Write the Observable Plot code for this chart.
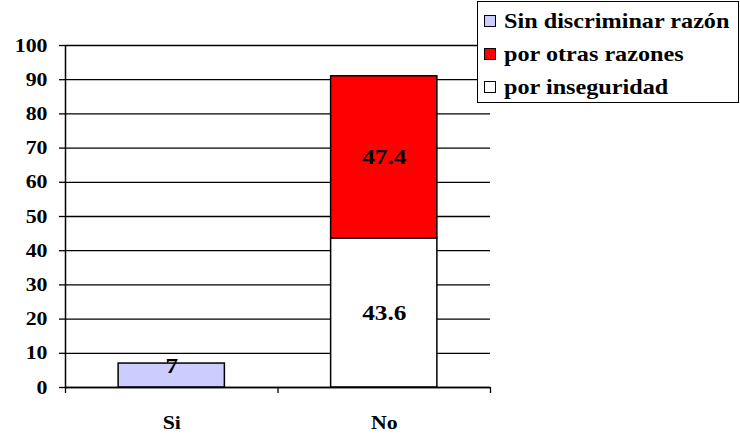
<!DOCTYPE html>
<html>
<head>
<meta charset="utf-8">
<script src="https://cdn.jsdelivr.net/npm/d3@7"></script>
<script src="https://cdn.jsdelivr.net/npm/@observablehq/plot@0.6"></script>
<style>body{margin:0}</style>
</head>
<body>
<div id="wrap" style="position:relative;width:740px;height:439px;font-family:'Liberation Serif'"><div id="chart"></div><div id="legend" style="position:absolute;left:477px;top:1px;width:260px;height:100px;border:1.5px solid #000;background:#fff"></div></div>
<script>
const categories = ["Si", "No"];
const series = ["Sin discriminar raz\u00f3n", "por otras razones", "por inseguridad"];
const seriesColors = ["#ccccff", "#ff0000", "#ffffff"];
// values per category (stack order bottom -> top)
const porInseguridad = [0, 43.6];
const porOtrasRazones = [0, 47.4];
const sinDiscriminar = [7, 0];
const yTicks = [0, 10, 20, 30, 40, 50, 60, 70, 80, 90, 100];

// build stacked table
const rows = [];
categories.forEach((cat, i) => {
  let acc = 0;
  [[series[2], porInseguridad[i]], [series[1], porOtrasRazones[i]], [series[0], sinDiscriminar[i]]]
    .forEach(([serie, v]) => {
      if (v > 0) {
        rows.push({i, cat, serie, value: v, y1: acc, y2: acc + v});
        acc += v;
      }
    });
});

const font = "Liberation Serif";

const plot = Plot.plot({
  width: 740,
  height: 439,
  marginLeft: 65,
  marginRight: 250,
  marginTop: 45,
  marginBottom: 52,
  style: { fontFamily: font, fontSize: "19px", fontWeight: "bold" },
  x: { domain: [0, categories.length], axis: null },
  y: { domain: [0, 100], axis: null },
  color: { domain: series, range: seriesColors },
  marks: [
    Plot.gridY(yTicks, { stroke: "#000", strokeOpacity: 1, strokeWidth: 1.3 }),
    Plot.axisY({ ticks: yTicks, tickSize: 6, tickPadding: 12, fontSize: 19, strokeWidth: 1.3 }),
    Plot.axisX({ ticks: d3.range(categories.length + 1), tickSize: 6, tickFormat: () => "", strokeWidth: 1.3 }),
    Plot.axisX({ ticks: categories.map((_, i) => i + 0.5), tickSize: 0, tickPadding: 28, tickFormat: d => categories[Math.floor(d)], fontSize: 19 }),
    Plot.rectY(rows, { x1: d => d.i + 0.25, x2: d => d.i + 0.75, y1: "y1", y2: "y2", fill: "serie", stroke: "#000", strokeWidth: 1.5 }),
    Plot.ruleX([0], { stroke: "#000", strokeWidth: 1.5 }),
    Plot.ruleY([0], { stroke: "#000", strokeWidth: 1.5 }),
    Plot.text(rows.filter(d => d.cat !== "Si"), { x: d => d.i + 0.5, y: d => (d.y1 + d.y2) / 2, text: d => String(d.value), fontSize: 22, fill: "#000" }),
    Plot.text(rows.filter(d => d.cat === "Si"), { x: d => d.i + 0.5, y: "y2", text: d => String(d.value), dy: 2, fontSize: 22, fill: "#000" })
  ]
});
// widen the glyphs horizontally like the original, around each label's own anchor
plot.querySelectorAll("text").forEach(t => {
  const tr = t.getAttribute("transform");
  if (tr) t.setAttribute("transform", tr + " scale(1.15,1)");
});
document.getElementById("chart").appendChild(plot);

// legend
const legend = document.getElementById("legend");
series.forEach((s, k) => {
  const it = document.createElement("div");
  it.style.cssText = "position:absolute;left:6px;height:26px;display:flex;align-items:center;font-family:'Liberation Serif';font-weight:bold;font-size:22px;white-space:nowrap;color:#000;top:" + (6 + k * 33) + "px";
  const sw = document.createElement("div");
  sw.style.cssText = "width:10px;height:10px;border:1.5px solid #000;margin-right:8px;background:" + seriesColors[k];
  const t = document.createElement("span");
  t.style.cssText = "display:inline-block;transform:scaleX(1.1);transform-origin:0 50%";
  t.textContent = s;
  it.appendChild(sw);
  it.appendChild(t);
  legend.appendChild(it);
});
</script>
</body>
</html>
